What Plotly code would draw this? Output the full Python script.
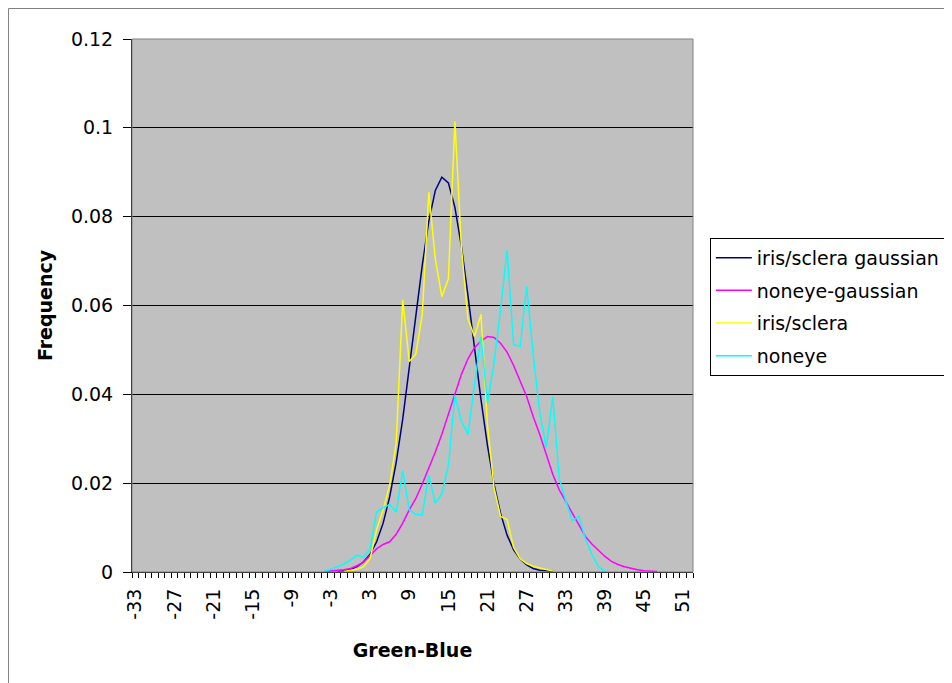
import plotly.graph_objects as go

# ---------------- data ----------------
iris_gauss_x = [-2, -1, 0, 1, 2, 3, 4, 5, 6, 7, 8, 9, 10, 11, 12, 13, 14, 15, 16,
                17, 18, 19, 20, 21, 22, 23, 24, 25, 26, 27, 28, 29, 30, 31]
iris_gauss_y = [0.0002, 0.0003, 0.0006, 0.0012, 0.0023, 0.004, 0.0068, 0.011, 0.0169,
                0.0247, 0.0344, 0.0456, 0.0576, 0.0691, 0.079, 0.0859, 0.0889, 0.0876,
                0.0821, 0.0733, 0.0623, 0.0504, 0.0388, 0.0284, 0.0198, 0.0132, 0.0083,
                0.005, 0.0029, 0.0016, 0.0008, 0.0004, 0.0002, 0.0001]

noneye_gauss_x = [-4, -3, -2, -1, 0, 1, 2, 3, 4, 5, 6, 7, 8, 9, 10, 11, 12, 13, 14, 15,
                  16, 17, 18, 19, 20, 21, 22, 23, 24, 25, 26, 27, 28, 29, 30, 31, 32, 33,
                  34, 35, 36, 37, 38, 39, 40, 41, 42, 43, 44, 45, 46, 47]
noneye_gauss_y = [0.0001, 0.0002, 0.0003, 0.0005, 0.0008, 0.0014, 0.0022, 0.0036, 0.0052,
                  0.0062, 0.0068, 0.0085, 0.011, 0.014, 0.0165, 0.0198, 0.0232, 0.027,
                  0.031, 0.0355, 0.040, 0.0445, 0.048, 0.0505, 0.052, 0.053, 0.0528,
                  0.0515, 0.0495, 0.0465, 0.043, 0.0395, 0.035, 0.031, 0.0265, 0.022,
                  0.0185, 0.0158, 0.0133, 0.0105, 0.008, 0.0063, 0.0048, 0.0035, 0.0024,
                  0.0017, 0.0012, 0.0008, 0.0005, 0.0003, 0.0002, 0.0001]

iris_x = [-1, 0, 1, 2, 3, 4, 5, 6, 7, 8, 9, 10, 11, 12, 13, 14, 15, 16, 17, 18, 19,
          20, 21, 22, 23, 24, 25, 26, 27, 28, 29, 30, 31]
iris_y = [0.0001, 0.0003, 0.0006, 0.0012, 0.003, 0.0095, 0.014, 0.0195, 0.029, 0.0613,
          0.0474, 0.049, 0.058, 0.0855, 0.0705, 0.062, 0.066, 0.1015, 0.073, 0.057,
          0.053, 0.058, 0.033, 0.019, 0.0125, 0.0118, 0.0055, 0.003, 0.0019, 0.0013,
          0.0009, 0.0005, 0.0002]

noneye_x = [-4, -3, -2, -1, 0, 1, 2, 3, 4, 5, 6, 7, 8, 9, 10, 11, 12, 13, 14, 15, 16,
            17, 18, 19, 20, 21, 22, 23, 24, 25, 26, 27, 28, 29, 30, 31, 32, 33, 34, 35,
            36, 37, 38, 39]
noneye_y = [0.0001, 0.0006, 0.0012, 0.0018, 0.0027, 0.0038, 0.0033, 0.0052, 0.0135,
            0.0145, 0.0152, 0.0135, 0.0228, 0.014, 0.013, 0.0128, 0.0218, 0.0155,
            0.0175, 0.024, 0.0398, 0.034, 0.031, 0.042, 0.053, 0.038, 0.047, 0.059,
            0.0725, 0.0512, 0.0508, 0.0643, 0.049, 0.036, 0.028, 0.0395, 0.021, 0.016,
            0.0115, 0.0125, 0.0075, 0.004, 0.0012, 0.0002]

x_tick_vals = [-33, -27, -21, -15, -9, -3, 3, 9, 15, 21, 27, 33, 39, 45, 51]
x_tick_text = ["-33", "-27", "-21", "-15", "-9", "-3", "3", "9", "15", "21", "27",
               "33", "39", "45", "51"]
x_first, x_last = -33, 52           # category range of the axis

series = [
    ("iris/sclera gaussian", iris_gauss_x, iris_gauss_y, "#000080"),
    ("noneye-gaussian", noneye_gauss_x, noneye_gauss_y, "#FF00FF"),
    ("iris/sclera", iris_x, iris_y, "#FFFF00"),
    ("noneye", noneye_x, noneye_y, "#00FFFF"),
]

FONT = "DejaVu Sans, Liberation Sans, Arial, sans-serif"

fig = go.Figure()
for name, xs, ys, col in series:
    fig.add_trace(go.Scatter(x=xs, y=ys, mode="lines", name=name, legendgroup=name,
                             line=dict(color=col, width=1.5)))

# category boundaries for the small tick marks
boundary_ticks = [x_first - 0.5 + i for i in range(x_last - x_first + 2)]

fig.update_layout(
    width=944, height=675,
    margin=dict(l=124, r=259, t=31, b=111, autoexpand=False),
    paper_bgcolor="white",
    plot_bgcolor="#C0C0C0",
    font=dict(family=FONT, size=19, color="black"),
    showlegend=True,
    legend=dict(
        x=1.03, y=0.627, xanchor="left", yanchor="top",
        bgcolor="white", bordercolor="black", borderwidth=1,
        font=dict(family=FONT, size=19, color="black"),
        itemwidth=36, tracegroupgap=5,
    ),
    xaxis=dict(
        range=[x_first - 0.5, x_last + 0.5],
        tickmode="array", tickvals=x_tick_vals, ticktext=x_tick_text,
        tickangle=-90, ticks="", showgrid=False, zeroline=False,
        showline=True, linecolor="black", linewidth=1,
        tickfont=dict(size=19), ticklabelstandoff=8,
        minor=dict(tickmode="array", tickvals=boundary_ticks, ticks="outside",
                   ticklen=5, tickcolor="black", tickwidth=1, showgrid=False),
        title=dict(text="<b>Green-Blue</b>", font=dict(size=19), standoff=25),
    ),
    yaxis=dict(
        range=[0, 0.12], dtick=0.02, tick0=0,
        ticks="outside", ticklen=8, tickcolor="black",
        showgrid=True, gridcolor="black", gridwidth=1,
        zeroline=False, showline=True, linecolor="black", linewidth=1,
        tickfont=dict(size=19), ticklabelstandoff=6,
        title=dict(text="<b>Frequency</b>", font=dict(size=19), standoff=13),
    ),
    shapes=[
        dict(type="rect", xref="paper", yref="paper", x0=0, x1=1, y0=0, y1=1,
             line=dict(color="#808080", width=1), layer="above"),
        dict(type="rect", xref="paper", yref="paper", x0=-0.2201, x1=1.6,
             y0=-0.25, y1=1.0572, line=dict(color="#808080", width=1), layer="below"),
    ],
)

fig.write_html("out.html")
